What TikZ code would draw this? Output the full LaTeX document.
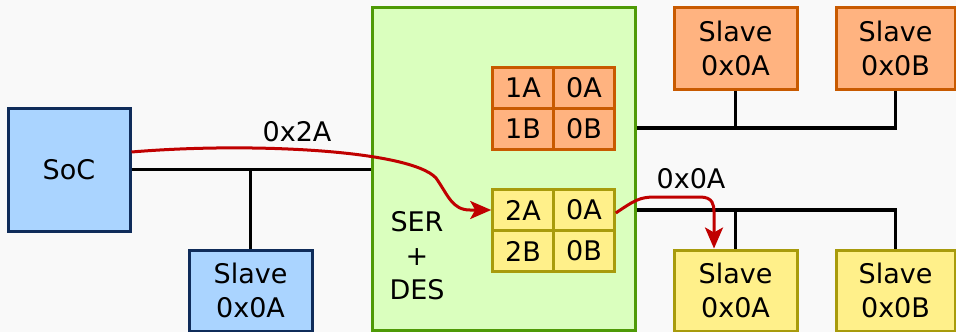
\documentclass[tikz,border=0pt]{standalone}
\usepackage{fontspec}
\setmainfont{DejaVu Sans}
\usepackage{tikz}
\usetikzlibrary{arrows,arrows.meta}
\usetikzlibrary{positioning, calc}
\definecolor{bgc}{HTML}{F9F9F9}
\definecolor{bluef}{HTML}{AAD4FF}
\definecolor{blued}{HTML}{0F2C5A}
\definecolor{greenf}{HTML}{DAFFBE}
\definecolor{greend}{HTML}{4E9A06}
\definecolor{orangef}{HTML}{FFB380}
\definecolor{oranged}{HTML}{C85A00}
\definecolor{yellowf}{HTML}{FFF08A}
\definecolor{yellowd}{HTML}{A89B0C}
\definecolor{redline}{HTML}{C00000}
\tikzset{
    box/.style args={#1 #2}{
        draw=#2, fill=#1, line width=3pt, align=center, inner sep=0pt
    },
    cell/.style args={#1 #2}{
        draw=#2, fill=#1, line width=2.6pt, minimum width=61pt, minimum height=41pt, inner sep=0pt
    },
    bus/.style={draw=black, line width=3.4pt},
    redarrow/.style={draw=redline, line width=3pt, -{Stealth[length=21pt,width=18pt,inset=5pt]}}
}

\begin{document}
\begin{tikzpicture}[x=1pt, y=-1pt]
    \tikzstyle{every node}=[font=\fontsize{27}{34}\selectfont];
    \useasboundingbox (0,0) rectangle (956,332);
    \fill[bgc] (0,0) rectangle (956,332);
    % left side
    \node[box={bluef blued}, minimum width=122pt, minimum height=123pt] (soc) at (69,169.5) {SoC};
    \node[box={bluef blued}, minimum width=123pt, minimum height=81pt] (bsl) at (250.5,290.5) {Slave\\0x0A};
    % serializer / deserializer
    \node[box={greenf greend}, minimum width=263pt, minimum height=323pt] (ser) at (503.5,168.5) {};
    \node[align=center] (serlbl) at (417,256) {SER\\+\\DES};
    \node[cell={orangef oranged}] (o1a) at (523,88) {1A};
    \node[cell={orangef oranged}] (o0a) at (584,88) {0A};
    \node[cell={orangef oranged}] (o1b) at (523,129) {1B};
    \node[cell={orangef oranged}] (o0b) at (584,129) {0B};
    \node[cell={yellowf yellowd}] (y2a) at (523,210) {2A};
    \node[cell={yellowf yellowd}] (y0a) at (584,210) {0A};
    \node[cell={yellowf yellowd}] (y2b) at (523,251) {2B};
    \node[cell={yellowf yellowd}] (y0b) at (584,251) {0B};
    % right side
    \node[box={orangef oranged}, minimum width=123pt, minimum height=82pt] (osl1) at (735.5,48) {Slave\\0x0A};
    \node[box={orangef oranged}, minimum width=119pt, minimum height=82pt] (osl2) at (895.5,48) {Slave\\0x0B};
    \node[box={yellowf yellowd}, minimum width=123pt, minimum height=81pt] (ysl1) at (735.5,290.5) {Slave\\0x0A};
    \node[box={yellowf yellowd}, minimum width=119pt, minimum height=81pt] (ysl2) at (895.5,290.5) {Slave\\0x0B};
    \coordinate (obus) at (635,128);
    \coordinate (ybus) at (635,210);
    \draw[bus] (soc.east) -- (ser.west |- soc.east);
    \draw[bus] (bsl.north) -- (bsl.north |- soc.east);
    \draw[bus] (ser.east |- obus) -| (osl2.south);
    \draw[bus] (osl1.south) -- (osl1.south |- obus);
    \draw[bus] (ser.east |- ybus) -| (ysl2.north);
    \draw[bus] (ysl1.north) -- (ysl1.north |- ybus);
    % routed transfers
    \coordinate (tgt) at ([xshift=-21.5pt]ysl1.north);
    \draw[redarrow] ([yshift=17.5pt]soc.east) .. controls (250,142) and (410,150) .. (436,178)
        .. controls (448,195) and (452,210) .. (470,210) -- (y2a.west);
    \node (lbl2a) at (297,132) {0x2A};
    \draw[redarrow] ([yshift=-3pt]y0a.east) .. controls (635,200) and (640,197) .. (655,197) -- (700,197)
        .. controls (713,197) and (714,205) .. (714,212) -- (tgt);
    \node (lbl0a) at (691,179) {0x0A};
\end{tikzpicture}
\end{document}
